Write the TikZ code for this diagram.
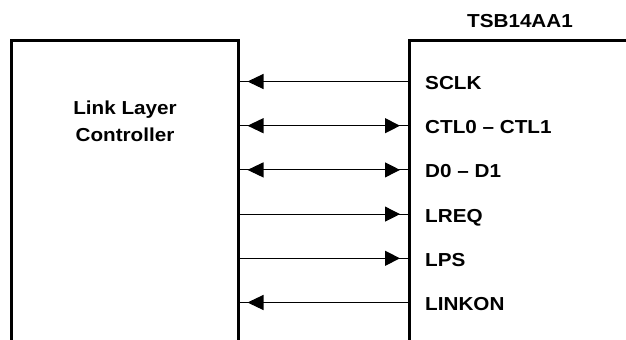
\documentclass[tikz,border=0pt]{standalone}
\usepackage{fontspec}
\setmainfont{Liberation Sans}[FakeStretch=1.1]
\usetikzlibrary{arrows.meta}
\begin{document}
\begin{tikzpicture}[x=1bp,y=-1bp,
  boxline/.style={line width=3bp, line cap=butt},
  wire/.style={line width=1.1bp},
  tipL/.style={wire,{Triangle[length=16bp,width=15bp,sep=8bp]}-},
  tipR/.style={wire,-{Triangle[length=15bp,width=15bp,sep=8bp]}},
  tipLR/.style={wire,{Triangle[length=16bp,width=15bp,sep=8bp]}-{Triangle[length=15bp,width=15bp,sep=8bp]}},
  lbl/.style={font=\fontsize{18.8bp}{22bp}\selectfont\bfseries, inner sep=0pt, anchor=base west},
  ttl/.style={font=\fontsize{18.8bp}{27bp}\selectfont\bfseries, inner sep=0pt, align=center}
]
\useasboundingbox (0,0) rectangle (626,339);
% boxes
\draw[boxline] (11.5,345) -- (11.5,40.5) -- (238,40.5) -- (238,345);
\draw[boxline] (409.5,345) -- (409.5,40.5) -- (630,40.5);
% titles
\node[ttl, anchor=base] (chip) at (520,27) {TSB14AA1};
\node[ttl] (llc) at (125,121) {Link Layer\\Controller};
% connector ends
\foreach \i/\y in {1/81.5,2/125.7,3/169.9,4/214.1,5/258.3,6/302.5}{
  \coordinate (l\i) at (239.5,\y);
  \coordinate (r\i) at (408,\y);
  \draw[wire] (l\i) -- (r\i);
}
\draw[tipL] (l1) -- (r1);
\draw[tipLR] (l2) -- (r2);
\draw[tipLR] (l3) -- (r3);
\draw[tipR] (l4) -- (r4);
\draw[tipR] (l5) -- (r5);
\draw[tipL] (l6) -- (r6);
% labels
\node[lbl] (s1) at (425,89.5) {SCLK};
\node[lbl] (s2) at (425,133.7) {CTL0 – CTL1};
\node[lbl] (s3) at (425,177.9) {D0 – D1};
\node[lbl] (s4) at (425,222.1) {LREQ};
\node[lbl] (s5) at (425,266.3) {LPS};
\node[lbl] (s6) at (425,310.5) {LINKON};
\end{tikzpicture}
\end{document}
